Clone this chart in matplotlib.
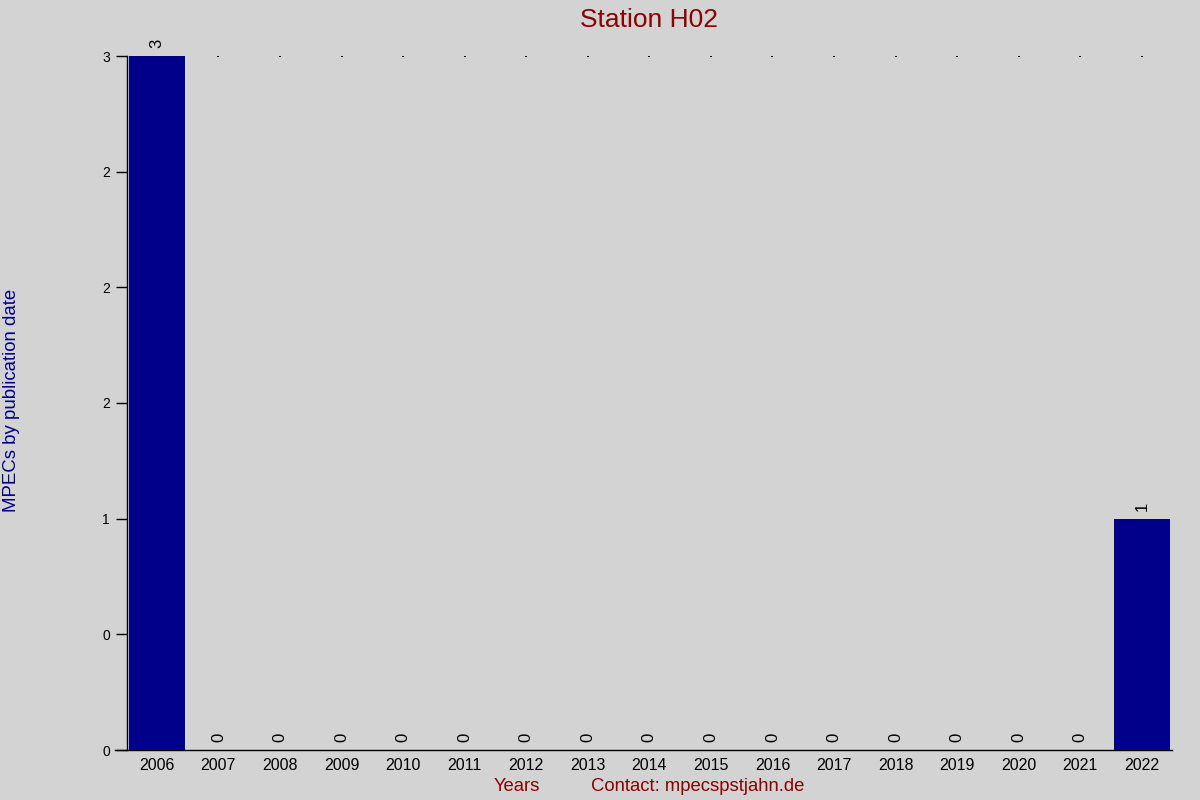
import matplotlib
matplotlib.use('Agg')
import matplotlib.pyplot as plt

plt.rcParams['font.family'] = ['Liberation Sans', 'DejaVu Sans']

# Datos
years = ['2006', '2007', '2008', '2009', '2010', '2011', '2012', '2013',
         '2014', '2015', '2016', '2017', '2018', '2019', '2020', '2021', '2022']
mpecs = [3, 0, 0, 0, 0, 0, 0, 0, 0, 0, 0, 0, 0, 0, 0, 0, 1]
ytick_values = [0, 0.5, 1, 1.5, 2, 2.5, 3]

bg = '#d3d3d3'
fig = plt.figure(figsize=(12, 8), dpi=100, facecolor=bg)
ax = fig.add_axes([0.0958, 0.0625, 0.8809, 0.8675], facecolor=bg)

x = list(range(len(years)))
bars = ax.bar(x, mpecs, width=0.91, color='#00008b', zorder=3)

# puntitos en la parte superior (se ocultan bajo las barras altas)
ax.scatter(x, [max(ytick_values)] * len(x), s=1.2, color='black', marker='s',
           linewidths=0, zorder=2, clip_on=True)

# etiquetas de valor rotadas
for bar in bars:
    h = bar.get_height()
    ax.text(bar.get_x() + bar.get_width() / 2, h + 0.035, str(int(h)),
            rotation=90, ha='center', va='bottom', fontsize=12, clip_on=False)

ax.set_xlim(-0.68, 16.49)
ax.set_ylim(0, 3)
ax.set_xticks(x)
ax.set_xticklabels(years, fontsize=11.5)
ax.set_yticks(ytick_values)
ax.set_yticklabels([str(round(v)) for v in ytick_values], fontsize=12)
ax.tick_params(axis='x', length=0, pad=6)
ax.tick_params(axis='y', length=8, width=1, pad=4)

for s in ['top', 'right']:
    ax.spines[s].set_visible(False)
ax.spines['left'].set_position(('data', -0.49))
ax.spines['left'].set_linewidth(1)
ax.spines['bottom'].set_linewidth(1)

fig.text(0.541, 0.975, 'Station H02', color='#8b0000', fontsize=19, ha='center', va='center')
fig.text(0.010, 0.5, 'MPECs by publication date', color='#00008b', fontsize=13.4,
         rotation=90, ha='center', va='center')
fig.text(0.431, 0.017, 'Years', color='#8b0000', fontsize=13.3, ha='center', va='center')
fig.text(0.581, 0.017, 'Contact: mpecspstjahn.de', color='#8b0000', fontsize=13.3,
         ha='center', va='center')

plt.savefig('out.png', facecolor=bg)
